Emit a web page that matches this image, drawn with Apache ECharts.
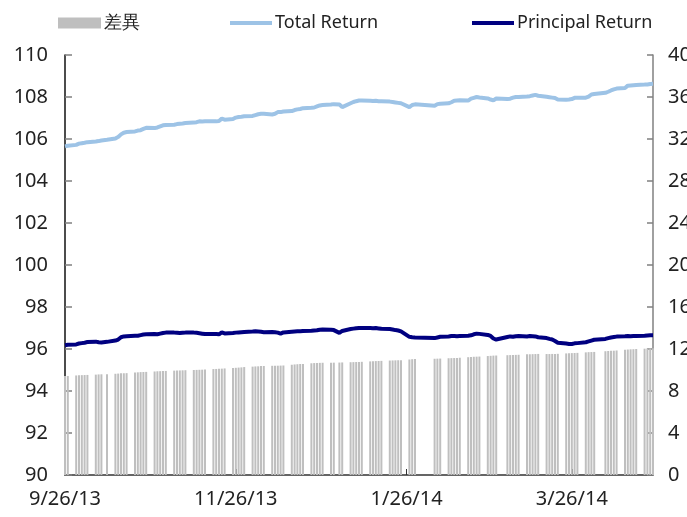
<!DOCTYPE html>
<html>
<head>
<meta charset="utf-8">
<script src="https://cdn.jsdelivr.net/npm/echarts@6/dist/echarts.min.js"></script>
<style>
html, body { margin: 0; padding: 0; background: #fff; }
#chart { width: 687px; height: 517px; }
</style>
</head>
<body>
<div id="chart"></div>
<script>
// trading days: weekdays from start to end, minus market holidays
var start_date = '2013-09-26';
var end_date = '2014-04-24';
var holidays = ['2013-10-10', '2014-01-01', '2014-01-30', '2014-01-31',
                '2014-02-03', '2014-02-04', '2014-02-28', '2014-04-04'];

// x axis labels
var tick_dates = ['2013-09-26', '2013-11-26', '2014-01-26', '2014-03-26'];
var tick_labels = ['9/26/13', '11/26/13', '1/26/14', '3/26/14'];

// 差異 (right axis), one value per trading day, a row per week
var diff_list = [
  9.42, 9.43,
  9.48, 9.50, 9.51, 9.52, 9.53,
  9.56, 9.58, 9.59, 9.60,
  9.64, 9.66, 9.68, 9.69, 9.70,
  9.76, 9.78, 9.80, 9.81, 9.82,
  9.86, 9.88, 9.89, 9.90, 9.91,
  9.94, 9.95, 9.96, 9.97, 9.98,
  10.00, 10.01, 10.02, 10.03, 10.04,
  10.09, 10.10, 10.12, 10.13, 10.15,
  10.19, 10.21, 10.23, 10.25, 10.28,
  10.32, 10.34, 10.35, 10.37, 10.38,
  10.40, 10.41, 10.41, 10.42, 10.43,
  10.50, 10.53, 10.55, 10.57, 10.58,
  10.64, 10.66, 10.67, 10.68, 10.69,
  10.70, 10.70, 10.71, 10.72,
  10.74, 10.75, 10.76, 10.77, 10.78,
  10.82, 10.84, 10.85, 10.86, 10.87,
  10.90, 10.91, 10.92, 10.93, 10.94,
  11.00, 11.03, 11.05,
  11.07, 11.08, 11.09,
  11.12, 11.13, 11.14, 11.15, 11.17,
  11.22, 11.24, 11.26, 11.27, 11.28,
  11.33, 11.35, 11.37, 11.38,
  11.41, 11.42, 11.43, 11.44, 11.45,
  11.49, 11.50, 11.51, 11.52, 11.53,
  11.52, 11.52, 11.53, 11.53, 11.54,
  11.58, 11.60, 11.61, 11.62, 11.63,
  11.68, 11.70, 11.71, 11.72,
  11.79, 11.81, 11.83, 11.84, 11.86,
  11.93, 11.95, 11.97, 11.98, 12.00,
  12.03, 12.05, 12.06, 12.07
];

// Total Return (left axis)
var total_list = [
  105.65, 105.68,
  105.72, 105.78, 105.80, 105.82, 105.85,
  105.88, 105.90, 105.93, 105.96,
  106.02, 106.10, 106.22, 106.30, 106.33,
  106.36, 106.40, 106.42, 106.48, 106.53,
  106.52, 106.55, 106.60, 106.65, 106.67,
  106.68, 106.71, 106.73, 106.74, 106.76,
  106.78, 106.80, 106.84, 106.83, 106.84,
  106.84, 106.84, 106.86, 106.97, 106.92,
  106.95, 107.02, 107.05, 107.06, 107.08,
  107.10, 107.14, 107.18, 107.20, 107.20,
  107.17, 107.20, 107.28, 107.28, 107.31,
  107.33, 107.38, 107.41, 107.43, 107.47,
  107.49, 107.50, 107.55, 107.60, 107.62,
  107.64, 107.66, 107.64, 107.52,
  107.70, 107.76, 107.80, 107.83, 107.83,
  107.82, 107.81, 107.82, 107.80, 107.80,
  107.78, 107.76, 107.74, 107.72, 107.70,
  107.52, 107.62, 107.65,
  107.58, 107.66, 107.68,
  107.70, 107.75, 107.82, 107.83, 107.84,
  107.83, 107.92, 107.96, 108.00, 107.98,
  107.93, 107.88, 107.84, 107.93,
  107.90, 107.92, 107.97, 108.00, 108.00,
  108.02, 108.04, 108.07, 108.10, 108.06,
  108.01, 107.99, 107.97, 107.95, 107.88,
  107.87, 107.88, 107.90, 107.96, 107.97,
  107.97, 108.02, 108.12, 108.14,
  108.20, 108.25, 108.31, 108.36, 108.40,
  108.43, 108.54, 108.55, 108.56, 108.57,
  108.59, 108.60, 108.62, 108.63
];

// Principal Return (left axis)
var principal_list = [
  96.18, 96.20,
  96.22, 96.26, 96.28, 96.30, 96.33,
  96.35, 96.32, 96.31, 96.34,
  96.40, 96.45, 96.56, 96.60, 96.61,
  96.63, 96.63, 96.66, 96.69, 96.70,
  96.71, 96.70, 96.73, 96.76, 96.78,
  96.78, 96.77, 96.76, 96.77, 96.78,
  96.78, 96.77, 96.75, 96.73, 96.71,
  96.72, 96.71, 96.70, 96.79, 96.74,
  96.76, 96.78, 96.79, 96.80, 96.81,
  96.83, 96.84, 96.83, 96.82, 96.80,
  96.81, 96.80, 96.78, 96.73, 96.79,
  96.82, 96.83, 96.84, 96.85, 96.86,
  96.87, 96.88, 96.89, 96.92, 96.93,
  96.92, 96.90, 96.77, 96.86,
  96.95, 96.97, 96.99, 97.00, 97.00,
  97.00, 96.99, 97.00, 96.98, 96.96,
  96.95, 96.93, 96.90, 96.88, 96.84,
  96.58, 96.56, 96.55,
  96.52, 96.55, 96.58,
  96.60, 96.62, 96.62, 96.61, 96.62,
  96.63, 96.65, 96.70, 96.73, 96.72,
  96.67, 96.62, 96.50, 96.45,
  96.57, 96.60, 96.58, 96.61, 96.62,
  96.60, 96.62, 96.61, 96.60, 96.56,
  96.52, 96.48, 96.45, 96.38, 96.30,
  96.26, 96.24, 96.24, 96.27, 96.28,
  96.32, 96.36, 96.40, 96.44,
  96.48, 96.52, 96.55, 96.57, 96.59,
  96.61, 96.62, 96.61, 96.62, 96.62,
  96.63, 96.64, 96.65, 96.65
];

// date string -> day number
function day_num(s) {
  var p = s.split('-');
  return Date.UTC(+p[0], +p[1] - 1, +p[2]) / 86400000;
}

var day0 = day_num(start_date);
var day_last = day_num(end_date) - day0;

// list of trading day offsets
var trade_days = [];
var holiday_nums = holidays.map(function (h) { return day_num(h) - day0; });
for (var d = 0; d <= day_last; d++) {
  var wd = new Date((day0 + d) * 86400000).getUTCDay();
  if (wd === 0 || wd === 6) continue;
  if (holiday_nums.indexOf(d) >= 0) continue;
  trade_days.push(d);
}
if (trade_days.length !== diff_list.length) {
  console.error('length mismatch', trade_days.length, diff_list.length);
}

function pair(list) {
  return list.map(function (v, i) { return [trade_days[i], v]; });
}

var tick_nums = tick_dates.map(function (t) { return day_num(t) - day0; });

var font = 'Noto Sans';
var legend_text = { fontSize: 18, color: '#222', fontFamily: font, padding: [0, 0, 0, -2] };
var chart = echarts.init(document.getElementById('chart'));
chart.setOption({
  animation: false,
  textStyle: { fontFamily: font },
  legend: [
    { left: 58, top: 14, padding: 0, itemWidth: 43, itemHeight: 11, textStyle: legend_text,
      data: [{ name: '差異', icon: 'rect' }] },
    { left: 230, top: 14, padding: 0, itemWidth: 42, itemHeight: 4, textStyle: legend_text,
      data: [{ name: 'Total Return', icon: 'rect' }] },
    { left: 472, top: 14, padding: 0, itemWidth: 42, itemHeight: 4, textStyle: legend_text,
      data: [{ name: 'Principal Return', icon: 'rect' }] }
  ],
  grid: { left: 65, right: 34, top: 55, bottom: 42, containLabel: false, outerBoundsMode: 'none' },
  xAxis: {
    type: 'value',
    min: 0,
    max: day_last,
    splitLine: { show: false },
    axisLine: { show: true, lineStyle: { color: '#333', width: 1.5 } },
    axisTick: { show: true, inside: true, length: 6, customValues: tick_nums,
                lineStyle: { color: '#333' } },
    axisLabel: {
      customValues: tick_nums,
      margin: 14,
      fontSize: 20,
      color: '#222',
      fontFamily: font,
      formatter: function (v) {
        var i = tick_nums.indexOf(v);
        return i >= 0 ? tick_labels[i] : '';
      }
    }
  },
  yAxis: [
    {
      type: 'value', min: 90, max: 110, interval: 2,
      splitLine: { show: false },
      axisLine: { show: true, lineStyle: { color: '#111', width: 1.5 } },
      axisTick: { show: true, inside: true, length: 7, lineStyle: { color: '#808080', width: 1.5 } },
      axisLabel: { fontSize: 20, color: '#222', margin: 17, fontFamily: font }
    },
    {
      type: 'value', min: 0, max: 40, interval: 4,
      splitLine: { show: false },
      axisLine: { show: true, lineStyle: { color: '#808080', width: 1.5 } },
      axisTick: { show: true, inside: true, length: 6, lineStyle: { color: '#808080', width: 1.5 } },
      axisLabel: { fontSize: 20, color: '#222', margin: 15, fontFamily: font }
    }
  ],
  series: [
    {
      name: '差異', type: 'bar', yAxisIndex: 1, barWidth: 2,
      itemStyle: { color: '#BFBFBF' },
      data: pair(diff_list)
    },
    {
      name: 'Total Return', type: 'line', yAxisIndex: 0, symbol: 'none',
      lineStyle: { color: '#9DC3E6', width: 4 }, itemStyle: { color: '#9DC3E6' },
      data: pair(total_list)
    },
    {
      name: 'Principal Return', type: 'line', yAxisIndex: 0, symbol: 'none',
      lineStyle: { color: '#000080', width: 4 }, itemStyle: { color: '#000080' },
      data: pair(principal_list)
    }
  ]
});
</script>
</body>
</html>
